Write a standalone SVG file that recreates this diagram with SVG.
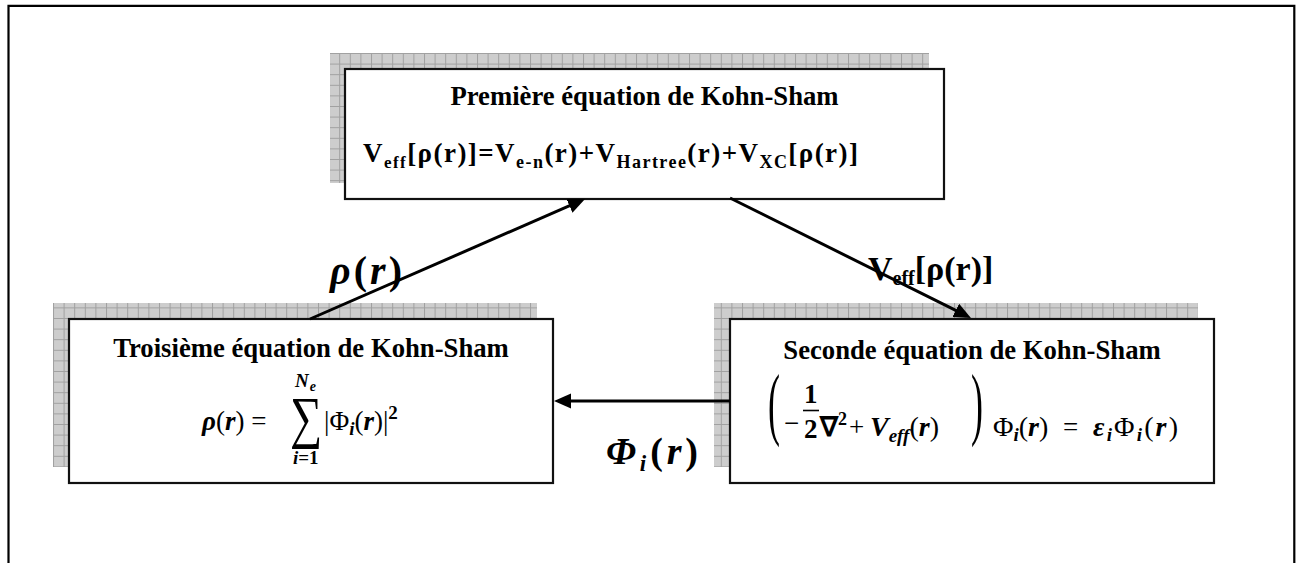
<svg xmlns="http://www.w3.org/2000/svg" width="1300" height="563" viewBox="0 0 1300 563">
<defs>
<pattern id="grid" width="10.6" height="10.6" patternUnits="userSpaceOnUse">
<rect width="10.6" height="10.6" fill="#cdcdcd"/>
<path d="M0 0.5H10.6M0.5 0V10.6" stroke="#a0a0a0" stroke-width="1" fill="none"/>
</pattern>
<marker id="ah" markerUnits="userSpaceOnUse" markerWidth="18" markerHeight="16" refX="9" refY="7.5" orient="auto">
<path d="M0 0L17 7.5L0 15z" fill="#000"/>
</marker>
</defs>
<style>
.shadow{fill:url(#grid);}
.box{fill:#fff;stroke:#111;stroke-width:2.2;}
.title{font-family:"Liberation Serif","Times New Roman",serif;font-weight:bold;font-size:26.7px;fill:#000;text-anchor:middle;}
.f{font-family:"Liberation Serif","Times New Roman",serif;font-weight:bold;fill:#000;}
.m{font-family:"Liberation Serif","Times New Roman",serif;fill:#000;}
.mb{font-weight:bold;}
.mi{font-style:italic;font-weight:bold;}
.conn{stroke:#000;stroke-width:3;fill:none;marker-end:url(#ah);}
.lbl{font-family:"Liberation Serif","Times New Roman",serif;fill:#000;font-weight:bold;}
</style>
<path d="M8.5 563V5.8H1294.3V563" fill="none" stroke="#000" stroke-width="2.2"/>

<g id="node-top">
<rect class="shadow" x="330" y="53" width="599" height="130"/>
<rect class="box" x="345" y="69" width="599" height="130"/>
<text class="title" x="644.5" y="105">Première équation de Kohn-Sham</text>
<text class="f" x="363" y="162" style="font-size:27px" textLength="495" lengthAdjust="spacing">V<tspan style="font-size:17px" dy="6">eff</tspan><tspan dy="-6">[ρ(r)]=V</tspan><tspan style="font-size:18px" dy="6">e-n</tspan><tspan dy="-6">(r)+V</tspan><tspan style="font-size:18px" dy="6">Hartree</tspan><tspan dy="-6">(r)+V</tspan><tspan style="font-size:18px" dy="6">XC</tspan><tspan dy="-6">[ρ(r)]</tspan></text>
</g>

<g id="node-left">
<rect class="shadow" x="53" y="303" width="484" height="164"/>
<rect class="box" x="69" y="319" width="484" height="164"/>
<text class="title" x="311" y="357">Troisième équation de Kohn-Sham</text>
<text class="m" x="202" y="430" style="font-size:27px"><tspan class="mi">ρ</tspan>(<tspan class="mi">r</tspan>) =</text>
<text class="m" transform="translate(290 437) scale(0.78 1)" style="font-size:58px">∑</text>
<text class="m" x="295" y="387" style="font-size:19px"><tspan class="mi">N</tspan><tspan class="mi" style="font-size:14px" dx="1" dy="4">e</tspan></text>
<text class="m" x="293" y="464" style="font-size:19px"><tspan class="mi">i</tspan><tspan class="mb">=1</tspan></text>
<text class="m" x="324" y="430" style="font-size:27px">|Φ<tspan class="mi" style="font-size:19px" dy="5">i</tspan><tspan dy="-5">(</tspan><tspan class="mi">r</tspan>)|<tspan class="mb" style="font-size:19px" dy="-11">2</tspan></text>
</g>

<g id="node-right">
<rect class="shadow" x="714" y="303" width="484" height="164"/>
<rect class="box" x="730" y="319" width="484" height="164"/>
<text class="title" x="972" y="359">Seconde équation de Kohn-Sham</text>
<text class="m" transform="translate(768 430) scale(0.45 1)" style="font-size:80px">(</text>
<text class="m" x="784" y="432" style="font-size:27px">−</text>
<text class="m mb" x="804" y="403" style="font-size:27px">1</text>
<path d="M803 410.5H819" stroke="#000" stroke-width="1.6"/>
<text class="m mb" x="804" y="438" style="font-size:27px">2</text>
<text class="m mb" x="820" y="436" style="font-size:27px">∇<tspan style="font-size:18px" dy="-11">2</tspan></text>
<text class="m" x="849" y="436" style="font-size:27px">+</text>
<text class="m" x="870" y="436" style="font-size:28px"><tspan class="mi">V</tspan><tspan class="mi" style="font-size:19px" dy="6">eff</tspan><tspan dy="-6">(</tspan><tspan class="mi">r</tspan>)</text>
<text class="m" transform="translate(971 430) scale(0.45 1)" style="font-size:80px">)</text>
<text class="m" x="993" y="436" style="font-size:28px">Φ<tspan class="mi" style="font-size:19px" dy="5">i</tspan><tspan dy="-5">(</tspan><tspan class="mi">r</tspan>)</text>
<text class="m" x="1063" y="436" style="font-size:27px">=</text>
<text class="m" x="1093" y="436" style="font-size:28px" textLength="85" lengthAdjust="spacing"><tspan class="mi">ε</tspan><tspan class="mi" style="font-size:19px" dy="5">i</tspan><tspan dy="-5">Φ</tspan><tspan class="mi" style="font-size:19px" dy="5">i</tspan><tspan dy="-5">(</tspan><tspan class="mi">r</tspan>)</text>
</g>

<g id="connectors">
<line class="conn" x1="310" y1="319" x2="577.7" y2="202.2"/>
<line class="conn" x1="730" y1="198" x2="963.8" y2="314.4"/>
<line class="conn" x1="730" y1="401" x2="562" y2="401"/>
<text class="lbl" x="330" y="284" style="font-size:40px" textLength="72" lengthAdjust="spacing"><tspan font-style="italic">ρ</tspan>(<tspan font-style="italic">r</tspan>)</text>
<text class="lbl" x="868" y="280" style="font-size:34px">V<tspan style="font-size:20px" dy="5">eff</tspan><tspan dy="-5">[ρ(r)]</tspan></text>
<text class="lbl" x="606" y="464" style="font-size:38px" textLength="92" lengthAdjust="spacing"><tspan font-style="italic">Φ</tspan><tspan font-style="italic" style="font-size:23px" dy="7">i</tspan><tspan dy="-7">(</tspan><tspan font-style="italic">r</tspan>)</text>
</g>
</svg>
